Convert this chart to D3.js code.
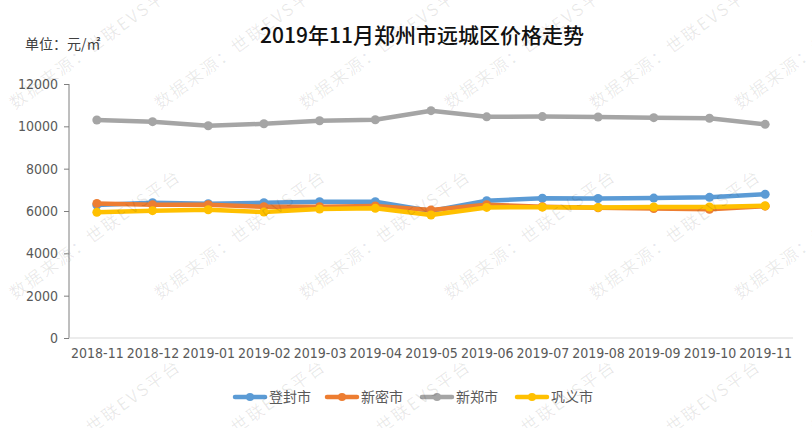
<!DOCTYPE html>
<html>
<head>
<meta charset="utf-8">
<script src="https://cdn.jsdelivr.net/npm/d3@7"></script>
<style>
  html, body { margin: 0; padding: 0; background: #fff; }
  svg { display: block; }
</style>
</head>
<body>
<div id="chart"></div>
<script>
const categories = ['2018-11','2018-12','2019-01','2019-02','2019-03','2019-04','2019-05','2019-06','2019-07','2019-08','2019-09','2019-10','2019-11'];
const seriesNames = ['登封市','新密市','新郑市','巩义市'];
const dengfeng = [6280, 6390, 6345, 6390, 6440, 6440, 6000, 6485, 6600, 6590, 6610, 6645, 6790];
const xinmi    = [6360, 6300, 6300, 6200, 6200, 6235, 6045, 6300, 6200, 6150, 6120, 6080, 6230];
const xinzheng = [10300, 10220, 10030, 10120, 10265, 10310, 10740, 10450, 10460, 10440, 10410, 10380, 10095];
const gongyi   = [5940, 6015, 6060, 5950, 6090, 6125, 5810, 6170, 6180, 6170, 6190, 6190, 6250];
const yTicks = [0, 2000, 4000, 6000, 8000, 10000, 12000];
const colors = ['#5B9BD5', '#ED7D31', '#A5A5A5', '#FFC000'];
const titleText = '2019年11月郑州市远城区价格走势';
const unitText = '单位：元/㎡';
const watermarkText = '数据来源：世联EVS平台';

const series = [dengfeng, xinmi, xinzheng, gongyi].map((vals, i) => ({ name: seriesNames[i], color: colors[i], values: vals }));

const W = 812, H = 428;
const svg = d3.select('#chart').append('svg').attr('width', W).attr('height', H);

const plot = { left: 69, right: 793, top: 84, bottom: 338 };
const x = d3.scalePoint().domain(categories).range([plot.left, plot.right]).padding(0.5);
const y = d3.scaleLinear().domain([0, 12000]).range([plot.bottom, plot.top]);

const tickFont = '"Liberation Sans Narrow", "DejaVu Sans Condensed", "Liberation Sans", sans-serif';

// title & unit
svg.append('text').attr('x', 422).attr('y', 43).attr('text-anchor', 'middle')
  .attr('font-family', '"Noto Sans CJK SC", sans-serif').attr('font-size', 21).attr('font-weight', 500)
  .attr('fill', '#111').text(titleText);
svg.append('text').attr('x', 25).attr('y', 49)
  .attr('font-family', '"Noto Sans CJK SC", sans-serif').attr('font-size', 14)
  .attr('fill', '#404040').text(unitText);

// y axis
const yAxis = svg.append('g').attr('transform', `translate(${plot.left},0)`)
  .call(d3.axisLeft(y).tickValues(yTicks).tickSize(5).tickPadding(6).tickFormat(d3.format('d')));
yAxis.select('.domain').attr('stroke', '#7f7f7f').attr('d', `M0,${plot.top}V${plot.bottom}`);
yAxis.selectAll('.tick line').attr('stroke', '#7f7f7f');
yAxis.selectAll('.tick text').attr('fill', '#595959').attr('font-size', 14).attr('font-family', tickFont);

// x axis
const xAxis = svg.append('g').attr('transform', `translate(0,${plot.bottom})`)
  .call(d3.axisBottom(x).tickSize(0).tickPadding(10));
xAxis.select('.domain').attr('stroke', '#d9d9d9').attr('d', `M${plot.left},0H${plot.right}`);
xAxis.selectAll('.tick text').attr('fill', '#595959').attr('font-size', 14).attr('font-family', tickFont);

// lines
const line = d3.line().x((d, i) => x(categories[i])).y(d => y(d));
series.forEach(s => {
  const g = svg.append('g');
  g.append('path').datum(s.values).attr('d', line).attr('fill', 'none')
    .attr('stroke', s.color).attr('stroke-width', 4.5).attr('stroke-linejoin', 'round').attr('stroke-linecap', 'round');
  g.selectAll('circle').data(s.values).enter().append('circle')
    .attr('cx', (d, i) => x(categories[i])).attr('cy', d => y(d)).attr('r', 4.5)
    .attr('fill', s.color);
});

// legend
const legendX = [235, 327, 422, 517];
const legend = svg.append('g');
series.forEach((s, i) => {
  const g = legend.append('g').attr('transform', `translate(${legendX[i]},397)`);
  g.append('line').attr('x1', 0).attr('x2', 30).attr('y1', 0).attr('y2', 0)
    .attr('stroke', s.color).attr('stroke-width', 4.5).attr('stroke-linecap', 'round');
  g.append('circle').attr('cx', 15).attr('cy', 0).attr('r', 4).attr('fill', s.color);
  g.append('text').attr('x', 34).attr('y', 5).attr('font-size', 14)
    .attr('font-family', '"Noto Sans CJK SC", sans-serif').attr('fill', '#595959').text(s.name);
});

// watermark
const wm = svg.append('g').attr('pointer-events', 'none');
for (let r = 0; r < 3; r++) {
  for (let c = 0; c < 6; c++) {
    const px = 15 + c * 145, py = 110 + r * 190;
    wm.append('text').attr('transform', `translate(${px},${py}) rotate(-36)`)
      .attr('font-family', '"Noto Sans CJK SC", sans-serif').attr('font-size', 17)
      .attr('letter-spacing', 2)
      .attr('fill', '#000').attr('fill-opacity', 0.09).text(watermarkText);
  }
}
</script>
</body>
</html>
